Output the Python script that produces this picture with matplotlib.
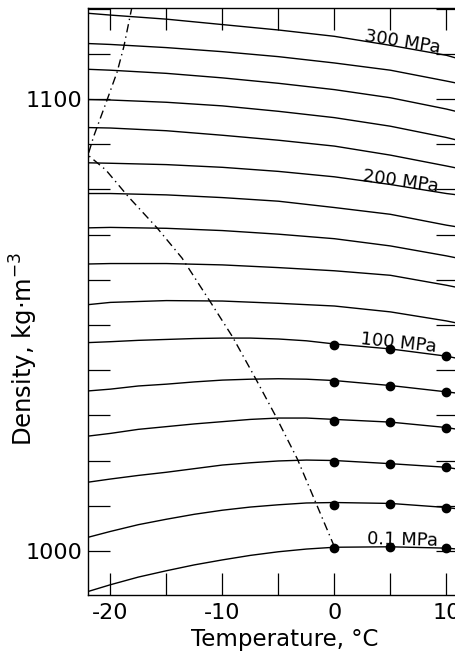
import numpy as np
import matplotlib
matplotlib.use("Agg")
import matplotlib.pyplot as plt
from matplotlib.ticker import MultipleLocator, FixedLocator

temps_low = [-22, -20, -17.5, -15, -12.5, -10, -7.5, -5, -2.5, 0, 5, 10, 11]
temps_high = [-22, -20, -15, -10, -5, 0, 5, 10, 11]

# density (kg/m3) along each isobar, 0.1 .. 100 MPa (read on temps_low)
rho_p01 = [991.0, 992.5, 994.2, 995.6, 996.9, 998.0, 999.0, 999.8, 1000.4, 1000.8, 1000.9, 1000.6, 1000.4]
rho_p20 = [1003.0, 1004.3, 1005.8, 1007.0, 1008.1, 1009.0, 1009.7, 1010.2, 1010.6, 1010.7, 1010.5, 1009.6, 1009.3]
rho_p40 = [1015.2, 1015.9, 1016.7, 1017.4, 1018.2, 1019.0, 1019.5, 1019.9, 1020.1, 1020.0, 1019.3, 1018.5, 1018.1]
rho_p60 = [1025.4, 1026.0, 1026.9, 1027.5, 1028.1, 1028.6, 1029.1, 1029.4, 1029.4, 1029.1, 1028.5, 1027.3, 1026.9]
rho_p80 = [1035.4, 1035.8, 1036.5, 1036.9, 1037.4, 1037.8, 1038.0, 1038.1, 1038.0, 1037.7, 1036.6, 1035.2, 1034.9]
rho_p100 = [1046.1, 1046.3, 1046.6, 1046.8, 1047.0, 1047.1, 1047.1, 1046.9, 1046.5, 1045.8, 1044.7, 1043.1, 1042.6]

# 120 .. 300 MPa (read on temps_high)
rho_p120 = [1054.5, 1055.0, 1055.4, 1055.3, 1054.8, 1054.2, 1052.9, 1050.9, 1050.4]
rho_p140 = [1063.5, 1063.6, 1063.6, 1063.3, 1062.7, 1062.0, 1061.0, 1058.8, 1058.3]
rho_p160 = [1071.5, 1071.6, 1071.4, 1070.9, 1070.1, 1069.1, 1067.5, 1065.3, 1064.8]
rho_p180 = [1079.1, 1079.1, 1078.8, 1078.2, 1077.4, 1076.0, 1074.5, 1072.1, 1071.7]
rho_p200 = [1085.9, 1085.8, 1085.5, 1084.9, 1084.0, 1082.8, 1081.1, 1079.1, 1078.8]
rho_p220 = [1093.7, 1093.6, 1093.0, 1092.0, 1090.9, 1089.6, 1087.6, 1085.2, 1084.7]
rho_p240 = [1099.9, 1099.8, 1099.3, 1098.5, 1097.3, 1095.9, 1094.0, 1091.5, 1090.9]
rho_p260 = [1106.6, 1106.4, 1105.7, 1104.7, 1103.5, 1102.1, 1100.3, 1097.8, 1097.2]
rho_p280 = [1112.3, 1112.1, 1111.4, 1110.5, 1109.4, 1108.0, 1106.4, 1104.0, 1103.5]
rho_p300 = [1119.0, 1118.6, 1117.7, 1116.5, 1115.3, 1113.9, 1111.9, 1109.7, 1109.0]

low_isobars = [rho_p01, rho_p20, rho_p40, rho_p60, rho_p80, rho_p100]
high_isobars = [rho_p120, rho_p140, rho_p160, rho_p180, rho_p200, rho_p220,
                rho_p240, rho_p260, rho_p280, rho_p300]

# measured points (dots)
dot_temps = [0, 5, 10]
dot_p01 = [1000.7, 1000.9, 1000.6]
dot_p20 = [1010.2, 1010.4, 1009.5]
dot_p40 = [1019.6, 1019.2, 1018.5]
dot_p60 = [1028.8, 1028.5, 1027.3]
dot_p80 = [1037.3, 1036.4, 1035.2]
dot_p100 = [1045.6, 1044.6, 1043.1]
dot_sets = [dot_p01, dot_p20, dot_p40, dot_p60, dot_p80, dot_p100]

# melting curve (dash-dot)
melt_T = [0, -1.7, -3.3, -5.3, -7.05, -9.1, -11.1, -13.6, -15.8, -18.4, -20.4, -22.0,
          -21.5, -20.3, -19.4, -18.8, -18.1]
melt_rho = [1000.9, 1010.9, 1020.3, 1030.1, 1038.2, 1047.4, 1055.2, 1064.8, 1071.4,
            1078.4, 1084.3, 1087.6, 1091.7, 1099.8, 1106.0, 1111.6, 1120.1]

# curve labels: text, temperature, density, rotation
label_text = ["300 MPa", "200 MPa", "100 MPa", "0.1 MPa"]
label_T = [6.1, 5.9, 5.7, 6.1]
label_rho = [1112.6, 1081.9, 1046.0, 1002.4]
label_rot = [-9, -8, -6, -1.5]

plt.rcParams['font.family'] = ['DejaVu Sans']
plt.rcParams['axes.unicode_minus'] = False

fig = plt.figure(figsize=(4.55, 6.54), dpi=100)
ax = fig.add_axes([0.1934, 0.0907, 0.8123, 0.8966])

for rho in low_isobars:
    ax.plot(temps_low, rho, color='black', lw=1.0)
for rho in high_isobars:
    ax.plot(temps_high, rho, color='black', lw=1.0)

for dots in dot_sets:
    ax.plot(dot_temps, dots, 'o', color='black', ms=6, zorder=3)

ax.plot(melt_T, melt_rho, color='black', lw=1.0, linestyle=(0, (6, 3, 1, 3)))

for txt, tx, ty, rot in zip(label_text, label_T, label_rho, label_rot):
    ax.text(tx, ty, txt, fontsize=13, ha='center', va='center', rotation=rot,
            rotation_mode='anchor')

ax.set_xlim(-22, 11)
ax.set_ylim(990.3, 1120.1)

ax.xaxis.set_major_locator(FixedLocator([-20, -10, 0, 10]))
ax.xaxis.set_minor_locator(MultipleLocator(5))
ax.yaxis.set_major_locator(FixedLocator([1000, 1100]))
ax.yaxis.set_minor_locator(MultipleLocator(10))
ax.tick_params(which='both', direction='in', length=15.8, width=0.9,
               top=True, right=True)
ax.tick_params(which='major', labelsize=16)
ax.tick_params(axis='x', pad=6)
ax.tick_params(axis='y', pad=4)

for s in ax.spines.values():
    s.set_linewidth(1.0)

ax.set_xlabel('Temperature, °C', fontsize=16.5)
ax.set_ylabel('Density, kg·m$^{-3}$', fontsize=17.5)
ax.xaxis.set_label_coords(0.533, -0.056)
ax.xaxis.label.set_va('top')
ax.yaxis.set_label_coords(-0.13, 0.42)

fig.savefig('out.png', dpi=100)
